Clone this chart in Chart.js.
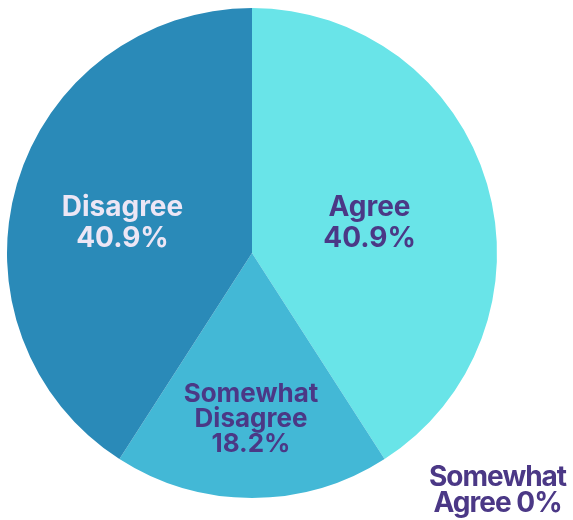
<!DOCTYPE html>
<html>
<head>
<meta charset="utf-8">
<script src="https://cdn.jsdelivr.net/npm/chart.js@4/dist/chart.umd.min.js"></script>
<style>
  html, body { margin: 0; padding: 0; background: #fff; }
  canvas { display: block; }
</style>
</head>
<body>
<canvas id="grafico" width="573" height="520"></canvas>
<script>
// respostas da pesquisa (%)
const categorias = ["Agree", "Somewhat Agree", "Somewhat Disagree", "Disagree"];
const valores = [40.9, 0, 18.2, 40.9];
const cores = ["#69e4e8", "#5fd0e0", "#43b8d6", "#2a8ab8"];
const rotulos = [
    ["Agree", "40.9%"],
    ["Somewhat", "Agree 0%"],
    ["Somewhat", "Disagree", "18.2%"],
    ["Disagree", "40.9%"]
];

// onde escrever cada rótulo: fração do raio, deslocamento e estilo
const posRotulo = [
    { r: 0.5, dx: 0, dy: 5, cor: "#4b3886", tam: 28, linha: 31 },
    { r: 1.0, dx: 113, dy: 32, cor: "#4b3886", tam: 28, linha: 26, esp: -1 },
    { r: 0.67, dx: -1, dy: 2, cor: "#4b3886", tam: 26, linha: 25 },
    { r: 0.5, dx: -12, dy: 5, cor: "#ece6f5", tam: 28, linha: 31 }
];

const rotulosPlugin = {
    id: "rotulos",
    afterDatasetsDraw(chart) {
        const ctx = chart.ctx;
        const meta = chart.getDatasetMeta(0);
        meta.data.forEach((arco, i) => {
            const p = arco.getProps(["x", "y", "startAngle", "endAngle", "outerRadius"], true);
            const meio = (p.startAngle + p.endAngle) / 2;
            const cfg = posRotulo[i];
            const cx = p.x + Math.cos(meio) * p.outerRadius * cfg.r + cfg.dx;
            const cy = p.y + Math.sin(meio) * p.outerRadius * cfg.r + cfg.dy;
            const linhas = rotulos[i];
            ctx.save();
            ctx.font = "700 " + cfg.tam + "px Inter";
            ctx.fillStyle = cfg.cor;
            ctx.textAlign = "center";
            ctx.textBaseline = "middle";
            ctx.letterSpacing = (cfg.esp || 0) + "px";
            const topo = cy - (linhas.length - 1) * cfg.linha / 2;
            linhas.forEach((t, k) => ctx.fillText(t, cx, topo + k * cfg.linha));
            ctx.restore();
        });
    }
};

new Chart(document.getElementById("grafico"), {
    type: "pie",
    data: {
        labels: categorias,
        datasets: [{
            data: valores,
            backgroundColor: cores,
            borderWidth: 0
        }]
    },
    options: {
        responsive: false,
        animation: false,
        layout: { padding: { left: 7, top: 8, right: 76, bottom: 22 } },
        plugins: {
            legend: { display: false },
            tooltip: { enabled: false }
        }
    },
    plugins: [rotulosPlugin]
});
</script>
</body>
</html>
